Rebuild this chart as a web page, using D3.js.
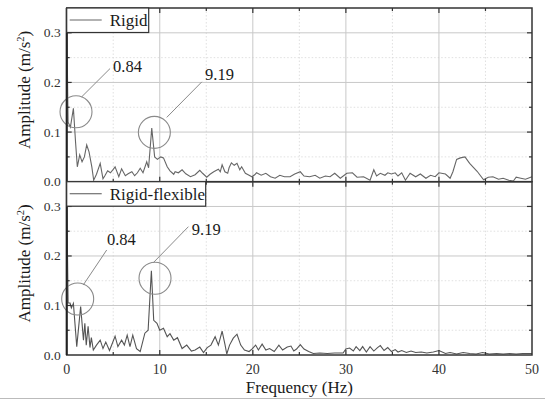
<!DOCTYPE html>
<html><head><meta charset="utf-8">
<script src="https://cdn.jsdelivr.net/npm/d3@7"></script>
<style>body{margin:0;background:#fff}svg{display:block}</style>
</head><body>
<svg id="c" width="545" height="401"></svg>
<script>
// ---- data ----
const freqRigid = [0,0.15,0.4,0.72,0.95,1.14,1.4,1.65,1.9,2.15,2.4,2.7,2.9,3.2,3.6,3.9,4.1,4.4,4.7,5.0,5.2,5.6,5.9,6.3,6.6,7.0,7.3,7.6,7.9,8.2,8.6,8.8,9.14,9.45,9.75,10.1,10.4,10.8,11.1,11.5,11.65,12.0,12.4,12.8,13.3,13.8,14.3,14.6,15.05,15.4,15.8,16.3,16.5,16.7,17.0,17.3,17.45,17.7,18.0,18.3,18.6,18.8,19.2,19.5,19.9,20.2,20.4,20.9,21.4,21.9,22.4,22.9,23.4,24.0,24.5,25.1,25.5,26.1,26.7,27.2,27.8,28.3,28.8,29.4,30.1,30.7,31.2,31.9,32.6,33.0,33.3,33.7,34.2,34.5,34.9,35.3,35.6,36.0,36.4,36.9,37.5,38.0,38.6,39.1,39.6,40.0,40.7,41.2,41.5,41.9,42.3,42.8,43.3,43.7,44.1,44.8,45.3,45.8,46.4,46.9,47.5,48.0,48.3,48.8,49.3,50];
const ampRigid = [0.33,0.12,0.11,0.148,0.08,0.03,0.054,0.04,0.05,0.074,0.06,0.03,0.003,0.015,0.037,0.006,0.012,0.022,0.018,0.025,0.03,0.01,0.026,0.012,0.016,0.02,0.012,0.018,0.027,0.018,0.04,0.028,0.108,0.05,0.045,0.05,0.048,0.03,0.022,0.015,0.02,0.018,0.024,0.016,0.01,0.014,0.023,0.017,0.009,0.015,0.02,0.025,0.02,0.034,0.02,0.017,0.028,0.038,0.033,0.037,0.024,0.03,0.017,0.014,0.01,0.014,0.018,0.013,0.017,0.01,0.007,0.013,0.01,0.01,0.0155,0.02,0.0115,0.01,0.013,0.007,0.0115,0.01,0.017,0.007,0.017,0.018,0.009,0.01,0.003,0.024,0.0115,0.017,0.013,0.018,0.0155,0.018,0.0115,0.018,0.003,0.017,0.01,0.0155,0.007,0.013,0.01,0.018,0.0155,0.007,0.02,0.045,0.048,0.05,0.037,0.029,0.021,0.004,0.009,0.01,0.005,0.007,0.003,0.0014,0.009,0.007,0.005,0.01];
const freqFlex = [0,0.15,0.36,0.5,0.72,1.08,1.5,1.8,1.95,2.1,2.3,2.5,2.65,2.86,3.2,3.6,3.9,4.2,4.6,5.2,5.5,5.9,6.2,6.5,6.8,7.1,7.5,7.9,8.4,8.75,9.1,9.35,9.7,10.0,10.4,10.8,11.1,11.5,11.9,12.4,12.9,13.4,13.8,14.3,14.7,15.1,15.5,15.95,16.3,16.7,17.0,17.2,17.5,17.9,18.3,18.7,19.1,19.6,19.9,20.3,20.6,21.0,21.4,21.8,22.3,22.8,23.2,23.7,24.1,24.4,24.7,25.1,25.5,26.0,26.5,27.2,28.0,28.8,29.7,30.0,30.4,30.8,31.1,31.5,31.8,32.2,32.6,33.0,33.4,33.7,34.1,34.5,34.9,35.3,35.6,36.0,36.5,37.0,37.5,38.1,38.7,39.4,40.0,40.7,41.2,41.9,42.6,43.3,44.0,44.7,45.4,46.2,46.9,47.6,48.3,49.0,50];
const ampFlex = [0.33,0.105,0.105,0.095,0.104,0.017,0.098,0.03,0.064,0.02,0.058,0.015,0.035,0.01,0.02,0.03,0.013,0.026,0.009,0.038,0.017,0.03,0.02,0.04,0.017,0.04,0.013,0.007,0.044,0.05,0.17,0.07,0.064,0.05,0.054,0.037,0.043,0.03,0.035,0.013,0.02,0.008,0.01,0.016,0.005,0.015,0.02,0.037,0.02,0.048,0.022,0.002,0.02,0.034,0.042,0.02,0.01,0.007,0.012,0.02,0.01,0.022,0.01,0.013,0.007,0.02,0.01,0.016,0.018,0.008,0.012,0.021,0.012,0.007,0.003,0.004,0.003,0.004,0.004,0.012,0.014,0.008,0.017,0.009,0.017,0.006,0.017,0.008,0.015,0.019,0.009,0.015,0.007,0.011,0.006,0.009,0.005,0.008,0.005,0.006,0.004,0.006,0.009,0.003,0.005,0.002,0.005,0.003,0.002,0.005,0.002,0.003,0.002,0.003,0.002,0.003,0.003];
const xTicks = [0,10,20,30,40,50];
const xMinorTicks = [5,15,25,35,45];
const yTicks = [0,0.1,0.2,0.3];
const yTickLabels = ["0.0","0.1","0.2","0.3"];
const yMinorTicks = [0.05,0.15,0.25];
const seriesNames = ["Rigid","Rigid-flexible"];
const peakLabels = ["0.84","9.19"];
// annotation anchor points in data units [frequency, amplitude]
const annotRigid = [
  {label:peakLabels[0], c:[1.0,0.1408], l:[[1.61,0.171],[4.66,0.228]], t:[4.98,0.2207]},
  {label:peakLabels[1], c:[9.42,0.0994], l:[[10.75,0.1296],[14.52,0.2012]], t:[14.87,0.2046]}
];
const annotFlex = [
  {label:peakLabels[0], c:[1.18,0.1131], l:[[1.78,0.1414],[4.30,0.2121]], t:[4.33,0.2222]},
  {label:peakLabels[1], c:[9.49,0.155], l:[[9.31,0.1865],[13.08,0.2592]], t:[13.44,0.2424]}
];

// ---- layout ----
const FONT = '"Liberation Serif"';
const svg = d3.select("#c").style("font-family", FONT);
const L = 66.7, R = 532;
const panels = [
  {top:8, bottom:181.7, f:freqRigid, a:ampRigid, name:seriesNames[0], ann:annotRigid, color:"#666", legW:82},
  {top:181.7, bottom:355, f:freqFlex, a:ampFlex, name:seriesNames[1], ann:annotFlex, color:"#555", legW:139}
];
const x = d3.scaleLinear().domain([0,50]).range([L,R]);
const txt = (sel)=>sel.append("text").style("font-family", FONT);

panels.forEach((p,i)=>{
  const y = d3.scaleLinear().domain([0,0.35]).range([p.bottom,p.top]);
  const g = svg.append("g");
  g.selectAll(".mgx").data(xMinorTicks).join("line")
    .attr("x1",d=>x(d)).attr("x2",d=>x(d)).attr("y1",p.top).attr("y2",p.bottom)
    .attr("stroke","#d8d8d8").attr("stroke-width",0.8).attr("stroke-dasharray","1.5,2");
  g.selectAll(".mgy").data(yMinorTicks).join("line")
    .attr("x1",L).attr("x2",R).attr("y1",d=>y(d)).attr("y2",d=>y(d))
    .attr("stroke","#d8d8d8").attr("stroke-width",0.8).attr("stroke-dasharray","1.5,2");
  g.selectAll(".gx").data(xTicks.slice(1,-1)).join("line")
    .attr("x1",d=>x(d)).attr("x2",d=>x(d)).attr("y1",p.top).attr("y2",p.bottom)
    .attr("stroke","#c8c8c8").attr("stroke-width",1);
  g.selectAll(".gy").data(yTicks.slice(1)).join("line")
    .attr("x1",L).attr("x2",R).attr("y1",d=>y(d)).attr("y2",d=>y(d))
    .attr("stroke","#c8c8c8").attr("stroke-width",1);
  const data = p.f.map((f,k)=>[f,p.a[k]]);
  g.append("path").datum(data)
    .attr("d", d3.line().x(d=>x(d[0])).y(d=>y(Math.min(d[1],0.35))))
    .attr("fill","none").attr("stroke",p.color).attr("stroke-width",1.1);
  p.ann.forEach(a=>{
    g.append("circle").attr("cx",x(a.c[0])).attr("cy",y(a.c[1])).attr("r",16)
      .attr("fill","none").attr("stroke","#8a8a8a").attr("stroke-width",1.1);
    g.append("line").attr("x1",x(a.l[0][0])).attr("y1",y(a.l[0][1]))
      .attr("x2",x(a.l[1][0])).attr("y2",y(a.l[1][1]))
      .attr("stroke","#8a8a8a").attr("stroke-width",1);
    txt(g).attr("x",x(a.t[0])).attr("y",y(a.t[1]))
      .attr("font-size",16.5).attr("fill","#1a1a1a").text(a.label);
  });
  const tk = g.append("g").attr("stroke","#333").attr("stroke-width",1.2);
  xTicks.slice(1,-1).forEach(d=>{
    tk.append("line").attr("x1",x(d)).attr("x2",x(d)).attr("y1",p.bottom).attr("y2",p.bottom-5);
    tk.append("line").attr("x1",x(d)).attr("x2",x(d)).attr("y1",p.top).attr("y2",p.top+5);
  });
  xMinorTicks.forEach(d=>{
    tk.append("line").attr("x1",x(d)).attr("x2",x(d)).attr("y1",p.bottom).attr("y2",p.bottom-3);
    tk.append("line").attr("x1",x(d)).attr("x2",x(d)).attr("y1",p.top).attr("y2",p.top+3);
  });
  yTicks.slice(1).forEach(d=>{
    tk.append("line").attr("x1",L).attr("x2",L+5).attr("y1",y(d)).attr("y2",y(d));
    tk.append("line").attr("x1",R).attr("x2",R-5).attr("y1",y(d)).attr("y2",y(d));
  });
  yMinorTicks.forEach(d=>{
    tk.append("line").attr("x1",L).attr("x2",L+3).attr("y1",y(d)).attr("y2",y(d));
    tk.append("line").attr("x1",R).attr("x2",R-3).attr("y1",y(d)).attr("y2",y(d));
  });
  g.append("rect").attr("x",L).attr("y",p.top).attr("width",R-L).attr("height",p.bottom-p.top)
    .attr("fill","none").attr("stroke","#333").attr("stroke-width",1.5);
  g.append("line").attr("x1",L).attr("x2",L).attr("y1",p.top).attr("y2",p.bottom)
    .attr("stroke","#222").attr("stroke-width",2);
  yTicks.forEach((d,k)=>{
    txt(g).attr("x",L-6).attr("y",y(d)+4.5).attr("text-anchor","end")
      .attr("font-size",13.5).attr("fill","#333").text(yTickLabels[k]);
  });
  const cy = (p.top+p.bottom)/2 - 5;
  const yl = txt(g).attr("transform",`translate(30,${cy}) rotate(-90)`)
    .attr("text-anchor","middle").attr("font-size",17).attr("fill","#1a1a1a");
  yl.append("tspan").text("Amplitude (m/s");
  yl.append("tspan").attr("font-size",10.5).attr("dy",-6).text("2");
  yl.append("tspan").attr("dy",6).text(")");
  const lg = g.append("g");
  lg.append("rect").attr("x",L).attr("y",p.top).attr("width",p.legW).attr("height",24.5)
    .attr("fill","#fff").attr("stroke","#333").attr("stroke-width",1.2);
  lg.append("line").attr("x1",L+3).attr("x2",L+35).attr("y1",p.top+12).attr("y2",p.top+12)
    .attr("stroke",p.color).attr("stroke-width",1.1);
  txt(lg).attr("x",L+43).attr("y",p.top+18)
    .attr("font-size",17).attr("fill","#1a1a1a").text(p.name);
});

xTicks.forEach(d=>{
  txt(svg).attr("x",x(d)).attr("y",374).attr("text-anchor","middle")
    .attr("font-size",14).attr("fill","#333").text(d);
});
txt(svg).attr("x",(L+R)/2).attr("y",393).attr("text-anchor","middle")
  .attr("font-size",17).attr("fill","#1a1a1a").text("Frequency (Hz)");
svg.append("line").attr("x1",0).attr("x2",545).attr("y1",398.5).attr("y2",398.5)
  .attr("stroke","#bbb").attr("stroke-width",1);
</script>
</body></html>
